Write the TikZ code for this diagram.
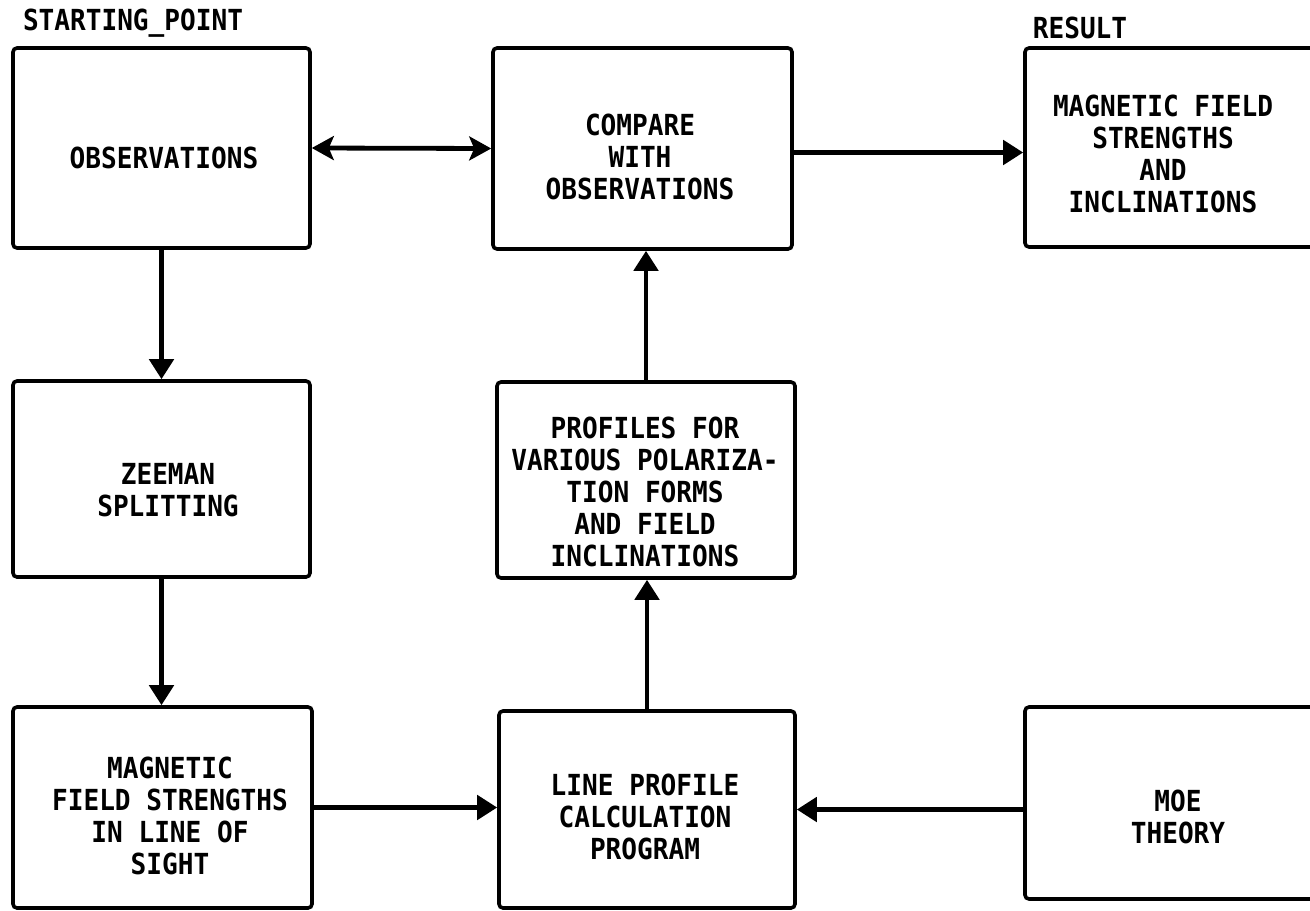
\documentclass[tikz,border=0pt]{standalone}
\usepackage{fontspec}
\newfontfamily\lettering[FakeStretch=0.9]{DejaVu Sans Mono Bold}
\usetikzlibrary{arrows.meta}
\tikzset{
  box/.style={draw, line width=1.8pt, rounded corners=2pt, inner sep=0pt},
  txt/.style={align=center, inner sep=0pt, font=\lettering\fontsize{14.5}{16}\selectfont},
  arr/.style={line width=2.4pt, -{Triangle[length=10pt,width=12pt]}},
  dbl/.style={line width=2.4pt, {Stealth[length=11pt,width=12pt,inset=2.5pt]}-{Stealth[length=11pt,width=12pt,inset=2.5pt]}}
}
\begin{document}
\begin{tikzpicture}[x=0.5pt,y=-0.5pt]
\useasboundingbox (0,0) rectangle (1310,910);
\clip (0,0) rectangle (1310,910);
% boxes
\node[box, minimum width=148.5pt, minimum height=100pt] (obs) at (161.5,148) {};
\node[box, minimum width=149.5pt, minimum height=100.5pt] (cmp) at (642.5,148.5) {};
\node[box, minimum width=155pt, minimum height=99.5pt] (res) at (1180,147.5) {};
\node[box, minimum width=148.5pt, minimum height=98pt] (zee) at (161.5,479) {};
\node[box, minimum width=149pt, minimum height=98pt] (prof) at (646,480) {};
\node[box, minimum width=149.5pt, minimum height=100.5pt] (los) at (162.5,807.5) {};
\node[box, minimum width=148pt, minimum height=98.5pt] (lpc) at (647,809.5) {};
\node[box, minimum width=155pt, minimum height=96pt] (moe) at (1180,803) {};
% texts
\node[txt] (start) at (133,23) {STARTING\_POINT};
\node[txt] (result) at (1080,28) {RESULT};
\node[txt] (obs-t) at (164,158) {OBSERVATIONS};
\node[txt] (cmp-t) at (640,157) {COMPARE\\WITH\\OBSERVATIONS};
\node[txt] (res-t) at (1163,153.5) {MAGNETIC FIELD\\STRENGTHS\\AND\\INCLINATIONS};
\node[txt] (zee-t) at (168,490) {ZEEMAN\\SPLITTING};
\node[txt] (prof-t) at (645,491.5) {PROFILES FOR\\VARIOUS POLARIZA-\\TION FORMS\\AND FIELD\\INCLINATIONS};
\node[txt] (los-t) at (170,815.5) {MAGNETIC\\FIELD STRENGTHS\\IN LINE OF\\SIGHT};
\node[txt] (lpc-t) at (645,816.5) {LINE PROFILE\\CALCULATION\\PROGRAM};
\node[txt] (moe-t) at (1178,817) {MOE\\THEORY};
% connectors
\draw[dbl] (obs.east) -- (cmp.west);
\draw[arr] ([yshift=-2pt]cmp.east) -- ([yshift=-2pt]cmp.east -| res.west);
\draw[arr] (obs.south) -- (obs.south |- zee.north);
\draw[arr] (zee.south) -- (zee.south |- los.north);
\draw[arr] (los.east) -- (los.east -| lpc.west);
\draw[arr] (moe.west |- lpc.east) -- (lpc.east);
\draw[arr] (lpc.north) -- (lpc.north |- prof.south);
\draw[arr] (prof.north) -- (prof.north |- cmp.south);
\end{tikzpicture}
\end{document}
